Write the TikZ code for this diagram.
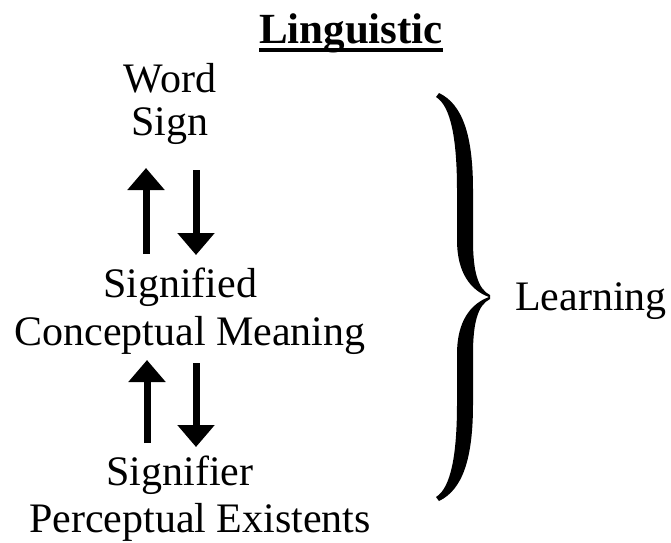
\documentclass[tikz,border=0pt]{standalone}
\usepackage{fontspec}
\setmainfont{Liberation Serif}
\usetikzlibrary{arrows.meta,calc}
\begin{document}
\begin{tikzpicture}[x=1pt,y=-1pt,
  txt/.style={inner sep=0pt,anchor=base,font=\fontsize{42}{42}\selectfont},
  ttl/.style={inner sep=0pt,anchor=base,font=\fontsize{43}{43}\selectfont\bfseries},
  bigarrow/.style={line width=7pt,-{Triangle[length=22pt,width=36pt]}}]
\useasboundingbox (0,0) rectangle (671,542);
% title
\node[ttl] (ling) at (351,43) {Linguistic};
\fill ($(ling.base west)+(0,5)$) rectangle ($(ling.base east)+(0,9)$);
% texts
\node[txt] (word) at (170,92) {Word};
\node[txt] (sign) at (170,135) {Sign};
\node[txt] (sigd) at (180,297) {Signified};
\node[txt] (conc) at (190,345) {Conceptual Meaning};
\node[txt] (sigr) at (180,485) {Signifier};
\node[txt] (perc) at (200,532) {Perceptual Existents};
\node[txt] (learn) at (591,310) {Learning};
% arrows
\coordinate (u1s) at (146,254); \coordinate (u1e) at (146,168);
\coordinate (d1s) at (196,170); \coordinate (d1e) at (196,255);
\coordinate (u2s) at (147,443); \coordinate (u2e) at (147,360);
\coordinate (d2s) at (196,363); \coordinate (d2e) at (196,447);
\draw[bigarrow] (u1s) -- (u1e);
\draw[bigarrow] (d1s) -- (d1e);
\draw[bigarrow] (u2s) -- (u2e);
\draw[bigarrow] (d2s) -- (d2e);
% brace
\fill (436,97) .. controls (451,106) and (457,140) .. (457,190)
  -- (457,240) .. controls (457,272) and (470,290) .. (489,297)
  .. controls (470,304) and (457,322) .. (457,354)
  -- (457,404) .. controls (457,454) and (451,488) .. (436,497)
  -- (439,501) .. controls (462,490) and (473,460) .. (473,404)
  -- (473,354) .. controls (473,322) and (478,305) .. (490,299)
  -- (490,295) .. controls (478,289) and (473,272) .. (473,240)
  -- (473,190) .. controls (473,134) and (462,104) .. (439,93)
  -- cycle;
\end{tikzpicture}
\end{document}
